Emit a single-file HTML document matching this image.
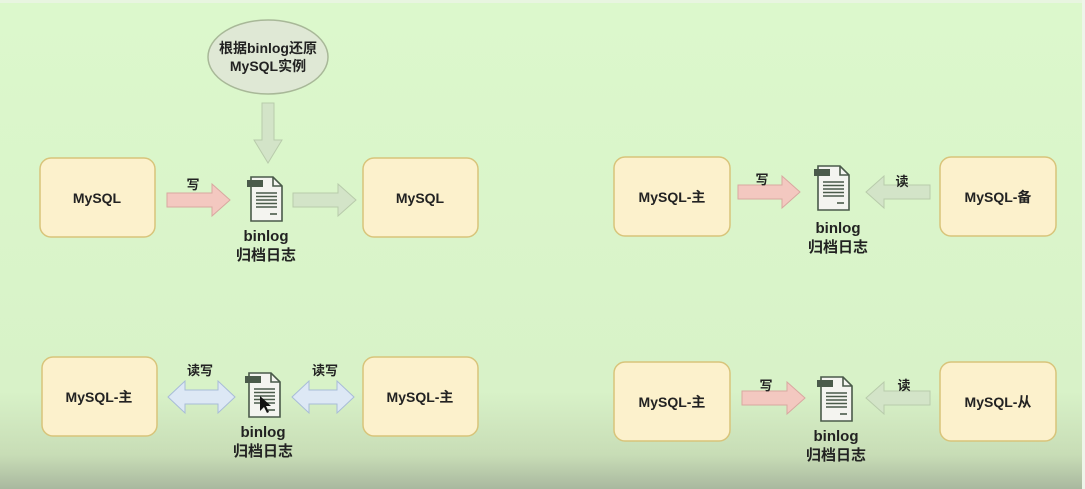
<!DOCTYPE html>
<html><head><meta charset="utf-8"><style>
html,body{margin:0;padding:0;background:#dcf7cc;}
svg{display:block;}
text{font-family:"Liberation Sans","Noto Sans CJK SC",sans-serif;font-weight:bold;fill:#222;}
</style></head><body>
<svg width="1085" height="489" viewBox="0 0 1085 489" xmlns="http://www.w3.org/2000/svg">
<defs>
<linearGradient id="bg" x1="0" y1="0" x2="0" y2="1">
<stop offset="0" stop-color="#dcf8cc"/><stop offset="0.8" stop-color="#d8f2c8"/><stop offset="0.93" stop-color="#c8ddb6"/><stop offset="1" stop-color="#a9b89f"/>
</linearGradient>
<g id="doc">
<path d="M0 0 H22 L31 9 V44 H0 Z" fill="#f4f4f0" stroke="#4a5a4a" stroke-width="1.6"/>
<path d="M22 0 V9 H31" fill="none" stroke="#4a5a4a" stroke-width="1.6"/>
<rect x="-4" y="3" width="16" height="7" fill="#4a5a4a"/>
<g stroke="#4a5a4a" stroke-width="1.6">
<line x1="5" y1="16" x2="26" y2="16"/><line x1="5" y1="19.5" x2="26" y2="19.5"/><line x1="5" y1="23" x2="26" y2="23"/><line x1="5" y1="26.5" x2="26" y2="26.5"/><line x1="5" y1="30" x2="26" y2="30"/><line x1="19" y1="37" x2="26" y2="37"/>
</g>
</g>
</defs>
<rect width="1085" height="489" fill="url(#bg)"/>
<rect width="1085" height="3" fill="#e8f5e0"/>
<rect x="1082" width="3" height="489" fill="#eef5ea"/>

<g fill="#fcf1cc" stroke="#d8c47a" stroke-width="1.5">
<rect x="40" y="158" width="115" height="79" rx="11"/>
<rect x="363" y="158" width="115" height="79" rx="11"/>
<rect x="614" y="157" width="116" height="79" rx="11"/>
<rect x="940" y="157" width="116" height="79" rx="11"/>
<rect x="42" y="357" width="115" height="79" rx="11"/>
<rect x="363" y="357" width="115" height="79" rx="11"/>
<rect x="614" y="362" width="116" height="79" rx="11"/>
<rect x="940" y="362" width="116" height="79" rx="11"/>
</g>
<g font-size="14" text-anchor="middle">
<text x="97" y="203">MySQL</text>
<text x="420" y="203">MySQL</text>
<text x="672" y="202">MySQL-主</text>
<text x="998" y="202">MySQL-备</text>
<text x="99" y="402">MySQL-主</text>
<text x="420" y="402">MySQL-主</text>
<text x="672" y="407">MySQL-主</text>
<text x="998" y="407">MySQL-从</text>
</g>

<ellipse cx="268" cy="57" rx="60" ry="37" fill="#dfe8d5" stroke="#a8b898" stroke-width="1.5"/>
<text x="268" y="53" font-size="14" text-anchor="middle">根据binlog还原</text>
<text x="268" y="71" font-size="14" text-anchor="middle">MySQL实例</text>

<path d="M262 103 H274 V140 H282 L268 163 L254 140 H262 Z" fill="#d3e4c8" stroke="#b8cbab"/>
<path d="M167 193 H212 V184 L230 200 L212 216 V207 H167 Z" fill="#f3c8c0" stroke="#d8a8a0"/>
<path d="M293 193 H338 V184 L356 200 L338 216 V207 H293 Z" fill="#d3e4c8" stroke="#b8cbab"/>
<path d="M738 185 H782 V176 L800 192 L782 208 V199 H738 Z" fill="#f3c8c0" stroke="#d8a8a0"/>
<path d="M930 185 H884 V176 L866 192 L884 208 V199 H930 Z" fill="#d3e4c8" stroke="#b8cbab"/>
<path d="M742 391 H787 V382 L805 398 L787 414 V405 H742 Z" fill="#f3c8c0" stroke="#d8a8a0"/>
<path d="M930 391 H884 V382 L866 398 L884 414 V405 H930 Z" fill="#d3e4c8" stroke="#b8cbab"/>
<path d="M168 397 L185 381 V390 H218 V381 L235 397 L218 413 V404 H185 V413 Z" fill="#dde8f5" stroke="#a8bcd8"/>
<path d="M292 397 L309 381 V390 H337 V381 L354 397 L337 413 V404 H309 V413 Z" fill="#dde8f5" stroke="#a8bcd8"/>

<g font-size="13" text-anchor="middle" font-weight="normal">
<text x="193" y="189">写</text>
<text x="762" y="184">写</text>
<text x="902" y="186">读</text>
<text x="766" y="390">写</text>
<text x="904" y="390">读</text>
<text x="200" y="375">读写</text>
<text x="325" y="375">读写</text>
</g>

<use href="#doc" x="251" y="177"/>
<use href="#doc" x="818" y="166"/>
<use href="#doc" x="249" y="373"/>
<use href="#doc" x="821" y="377"/>
<path d="M260 396 L260 411 L264 407 L267 413 L269 412 L266 406 L271 406 Z" fill="#111"/>

<g font-size="15" text-anchor="middle">
<text x="266" y="241">binlog</text><text x="266" y="260">归档日志</text>
<text x="838" y="233">binlog</text><text x="838" y="252">归档日志</text>
<text x="263" y="437">binlog</text><text x="263" y="456">归档日志</text>
<text x="836" y="441">binlog</text><text x="836" y="460">归档日志</text>
</g>
</svg>
</body></html>
